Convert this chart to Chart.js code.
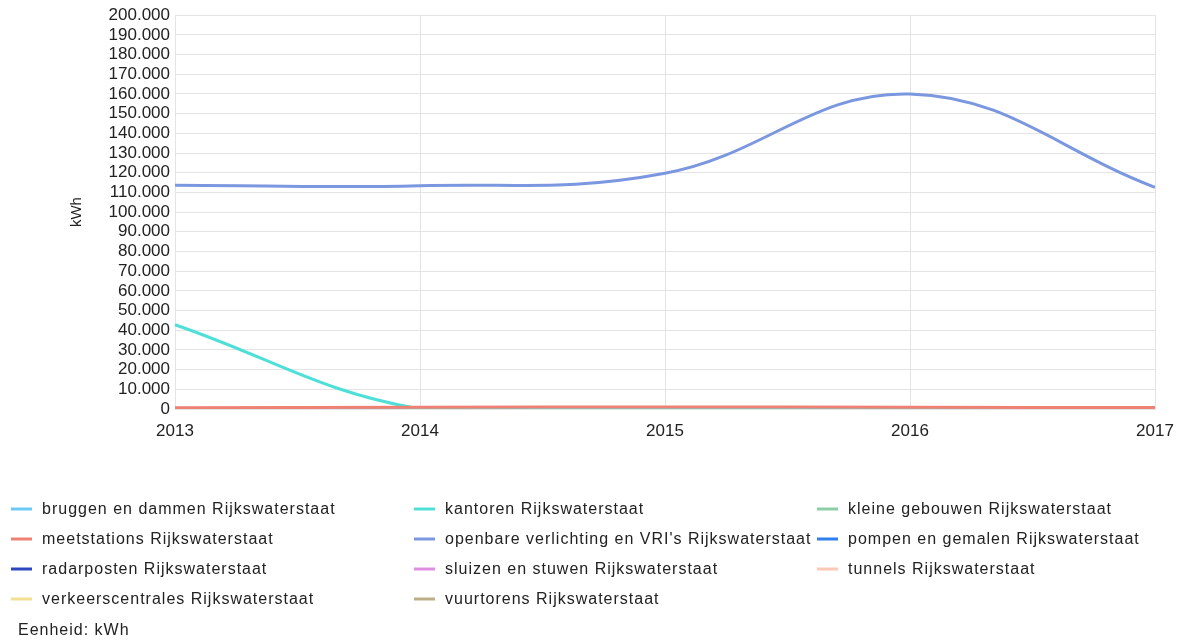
<!DOCTYPE html>
<html>
<head>
<meta charset="utf-8">
<script src="https://cdn.jsdelivr.net/npm/chart.js@4"></script>
<style>
  html, body { margin: 0; padding: 0; background: #fff; }
  #wrap { width: 1179px; height: 642px; position: relative; }
</style>
</head>
<body>
<div id="wrap"><canvas id="energyChart" width="1179" height="642"></canvas></div>
<script>
// Jaren op de x-as
const years = ['2013', '2014', '2015', '2016', '2017'];

// Verbruik per categorie (kWh)
const bruggen = [0, 0, 0, 0, 0];
const kantoren = [42800, 0, 0, 0, 0];
const kleineGebouwen = [0, 0, 0, 0, 0];
const meetstations = [600, 900, 1000, 900, 700];
const openbareVerlichting = [113600, 113400, 119700, 160000, 112600];
const pompen = [0, 0, 0, 0, 0];
const radarposten = [0, 0, 0, 0, 0];
const sluizen = [0, 0, 0, 0, 0];
const tunnels = [0, 0, 0, 0, 0];
const verkeerscentrales = [0, 0, 0, 0, 0];
const vuurtorens = [0, 0, 0, 0, 0];

const seriesNames = [
    'bruggen en dammen Rijkswaterstaat',
    'kantoren Rijkswaterstaat',
    'kleine gebouwen Rijkswaterstaat',
    'meetstations Rijkswaterstaat',
    "openbare verlichting en VRI's Rijkswaterstaat",
    'pompen en gemalen Rijkswaterstaat',
    'radarposten Rijkswaterstaat',
    'sluizen en stuwen Rijkswaterstaat',
    'tunnels Rijkswaterstaat',
    'verkeerscentrales Rijkswaterstaat',
    'vuurtorens Rijkswaterstaat'
];
const seriesValues = [bruggen, kantoren, kleineGebouwen, meetstations, openbareVerlichting,
    pompen, radarposten, sluizen, tunnels, verkeerscentrales, vuurtorens];
const seriesColors = ['#6cc8f4', '#4ee0d8', '#8ccfa6', '#ef8074', '#7b97df',
    '#2f7fec', '#2c47bd', '#de8fe0', '#fdc9b4', '#f3df92', '#bcae88'];

// Y-as: 0 t/m 200.000 in stappen van 10.000
const yMin = 0;
const yMax = 200000;
const yStep = 10000;

const unitText = 'Eenheid: kWh';
const textColor = '#222';
const fontFamily = '"Liberation Sans", Arial, sans-serif';

const datasets = seriesNames.map((name, i) => ({
    label: name,
    data: seriesValues[i],
    borderColor: seriesColors[i],
    backgroundColor: seriesColors[i],
    borderWidth: 3,
    tension: 0.4,
    pointRadius: 0,
    fill: false,
    // meetstations bovenop de nul-lijnen tekenen
    order: i === 3 ? -2 : (i === 1 ? -1 : (i === 4 ? -3 : i))
}));

// Eigen legenda in 3 kolommen + eenheid-regel
const gridLegend = {
    id: 'gridLegend',
    afterDraw(chart) {
        const c = chart.ctx;
        const colX = [11, 414, 817];
        const rowY = [509, 539, 569, 599];
        c.save();
        c.font = '16px ' + fontFamily;
        c.letterSpacing = '1px';
        c.textBaseline = 'middle';
        c.fillStyle = textColor;
        chart.data.datasets.forEach((ds, i) => {
            const x = colX[i % 3];
            const y = rowY[Math.floor(i / 3)];
            c.strokeStyle = ds.borderColor;
            c.lineWidth = 3;
            c.beginPath();
            c.moveTo(x, y);
            c.lineTo(x + 21, y);
            c.stroke();
            c.fillText(ds.label, x + 31, y + 1);
        });
        c.fillText(unitText, 18, 631);
        c.restore();
    }
};

const ctx = document.getElementById('energyChart').getContext('2d');

new Chart(ctx, {
    type: 'line',
    data: { labels: years, datasets: datasets },
    options: {
        responsive: false,
        animation: false,
        layout: { padding: { top: 15, right: 24, bottom: 198, left: 0 } },
        plugins: {
            legend: { display: false },
            tooltip: { enabled: false }
        },
        scales: {
            x: {
                offset: false,
                grid: { color: '#e4e4e4', drawTicks: false },
                border: { color: '#e4e4e4' },
                ticks: {
                    color: textColor,
                    padding: 12,
                    maxRotation: 0,
                    font: { family: fontFamily, size: 17 }
                },
                afterFit(scale) {
                    scale.height = 35;
                    scale.paddingLeft = 0;
                    scale.paddingRight = 0;
                }
            },
            y: {
                min: yMin,
                max: yMax,
                grid: { color: '#e4e4e4', drawTicks: false },
                border: { color: '#e4e4e4' },
                ticks: {
                    stepSize: yStep,
                    autoSkip: false,
                    color: textColor,
                    padding: 5,
                    font: { family: fontFamily, size: 17 },
                    callback: v => v.toLocaleString('de-DE')
                },
                title: {
                    display: true,
                    text: 'kWh',
                    color: textColor,
                    font: { family: fontFamily, size: 15 },
                    padding: { top: 68, bottom: 0 }
                },
                afterFit(scale) { scale.width = 175; }
            }
        }
    },
    plugins: [gridLegend]
});
</script>
</body>
</html>
